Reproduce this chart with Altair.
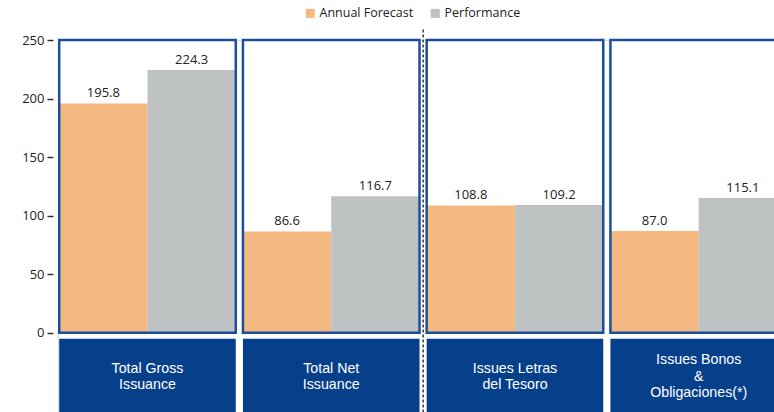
import altair as alt
import pandas as pd

# Issuance figures (EUR bn) per programme heading
categories = ["Total Gross\nIssuance", "Total Net\nIssuance",
              "Issues Letras\ndel Tesoro", "Issues Bonos\n&\nObligaciones(*)"]
series = ["Annual Forecast", "Performance"]
forecast = [195.8, 86.6, 108.8, 87.0]
performance = [224.3, 116.7, 109.2, 115.1]
y_ticks = [0, 50, 100, 150, 200, 250]

ORANGE = "#F4B981"
GREY = "#BEC2C3"
BORDER = "#1D4E9B"
BOX = "#07408A"
FONT = "Open Sans"
CAPTION_FONT = "Liberation Sans"

rows = []
for c, f, p in zip(categories, forecast, performance):
    rows.append({"cat": c, "series": series[0], "value": f})
    rows.append({"cat": c, "series": series[1], "value": p})
bars_df = pd.DataFrame(rows)
bars_df["label"] = bars_df["value"].map(lambda v: f"{v:.1f}")
cats_df = pd.DataFrame({"cat": categories})

# one row per caption line, with its index relative to the caption's centre
line_rows = []
for c in categories:
    parts = c.split("\n")
    for k, t in enumerate(parts):
        line_rows.append({"cat": c, "line": t, "rel": k - (len(parts) - 1) / 2})
lines_df = pd.DataFrame(line_rows)

# the last panel runs past the right edge of the view and is cut off there
x_scale = alt.Scale(domain=categories, range=[1.2, 729], paddingInner=0.039, paddingOuter=0)
y_scale = alt.Scale(domain=[-68, 250], nice=False, zero=False)
x_enc = alt.X("cat:N", scale=x_scale, axis=None, sort=categories)

bars = alt.Chart(bars_df).mark_bar().encode(
    x=x_enc,
    xOffset=alt.XOffset("series:N", sort=series,
                        scale=alt.Scale(paddingInner=0, paddingOuter=0)),
    y=alt.Y("value:Q", scale=y_scale, title=None,
            axis=alt.Axis(values=y_ticks, grid=False, domain=False,
                          tickColor="#333333", tickSize=6, tickWidth=1.5,
                          offset=5, labelPadding=3, labelFontSize=13,
                          labelColor="#222222", labelFont=FONT)),
    color=alt.Color("series:N", sort=series,
                    scale=alt.Scale(domain=series, range=[ORANGE, GREY]),
                    legend=alt.Legend(title=None, orient="none", direction="horizontal",
                                      legendX=246, legendY=-33, symbolType="square",
                                      symbolSize=81, symbolStrokeWidth=0,
                                      labelFont=FONT, labelFontSize=12.5,
                                      labelColor="#222222", columnPadding=15,
                                      labelOffset=3)),
)

values = alt.Chart(bars_df).mark_text(
    font=FONT, fontSize=13, color="#222222", dy=-10
).encode(
    x=x_enc,
    xOffset=alt.XOffset("series:N", sort=series),
    y=alt.Y("value:Q", scale=y_scale),
    text="label:N",
)

panels = alt.Chart(cats_df).mark_rect(
    fillOpacity=0, stroke=BORDER, strokeWidth=2.5
).encode(x=x_enc, y=alt.datum(250), y2=alt.datum(0))

boxes = alt.Chart(cats_df).mark_rect(fill=BOX).encode(
    x=x_enc, y=alt.datum(-5), y2=alt.datum(-68)
)

# caption lines, about 16 px apart, centred in each box
box_text = alt.Chart(lines_df).transform_calculate(
    ypos="-37.5 - datum.rel * 16.5 / 1.172"
).mark_text(
    font=CAPTION_FONT, fontSize=14.2, color="white", baseline="middle"
).encode(x=x_enc, y=alt.Y("ypos:Q", scale=y_scale), text="line:N")

separator = alt.Chart(cats_df[cats_df["cat"] == categories[2]]).mark_rule(
    color="#444444", strokeWidth=1.6, strokeDash=[3, 2], xOffset=-3.5
).encode(
    x=alt.X("cat:N", scale=x_scale, axis=None, sort=categories, bandPosition=0),
    y=alt.datum(259), y2=alt.datum(-68)
)

chart = alt.layer(bars, values, boxes, box_text, panels, separator).properties(
    width=716, height=372.5,
    autosize=alt.AutoSizeParams(type="none"),
    padding={"left": 58, "top": 40, "right": 0, "bottom": 0},
).configure_view(stroke=None).configure(background="white")

chart.save("out.html", embed_options={"renderer": "svg", "actions": False})
